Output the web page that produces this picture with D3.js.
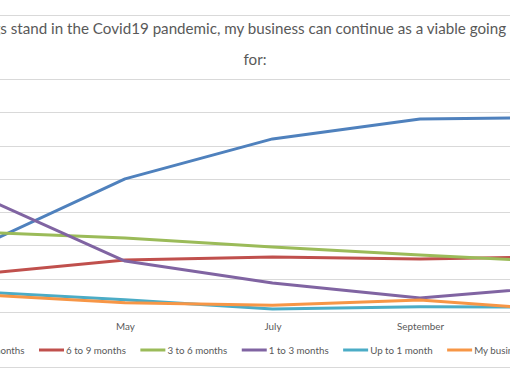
<!DOCTYPE html>
<html>
<head>
<meta charset="utf-8">
<script src="https://cdn.jsdelivr.net/npm/d3@7"></script>
<style>
  html, body { margin: 0; padding: 0; background: #fff; overflow: hidden; }
  svg { display: block; }
</style>
</head>
<body>
<svg id="chart" width="510" height="382"></svg>
<script>
// ---------------- DATA ----------------
const titleLine1 = "As things stand in the Covid19 pandemic, my business can continue as a viable going concern";
const titleLine2 = "for:";
const months = ["March", "April", "May", "June", "July", "August", "September", "October", "November"];
const surveyMonths = ["March", "May", "July", "September", "November"];
const tickMonths = ["May", "July", "September"];
const seriesNames = ["More than 9 months", "6 to 9 months", "3 to 6 months", "1 to 3 months", "Up to 1 month", "My business has already closed"];
const moreThan9 = [0.194, 0.400, 0.520, 0.580, 0.585];
const sixTo9    = [0.114, 0.156, 0.165, 0.159, 0.167];
const threeTo6  = [0.240, 0.222, 0.195, 0.171, 0.149];
const oneTo3    = [0.352, 0.153, 0.087, 0.042, 0.079];
const upTo1     = [0.061, 0.037, 0.009, 0.016, 0.015];
const closed    = [0.053, 0.028, 0.020, 0.036, 0.004];
const yTicks = [0, 0.1, 0.2, 0.3, 0.4, 0.5, 0.6, 0.7];
const colors = ["#4F81BD", "#C0504D", "#9BBB59", "#8064A2", "#4BACC6", "#F79646"];

const seriesValues = [moreThan9, sixTo9, threeTo6, oneTo3, upTo1, closed];

// ---------------- CHART ----------------
const svg = d3.select("#chart");
const W = 510, H = 382;
const FONT = "Lato, 'Open Sans', sans-serif";
const TEXT_COLOR = "#595959";
const GRID = "#d9d9d9";

svg.append("rect").attr("width", W).attr("height", H).attr("fill", "#fff");

// chart area border (top & bottom visible)
svg.append("line").attr("x1", 0).attr("x2", W).attr("y1", 15.5).attr("y2", 15.5)
  .attr("stroke", GRID).attr("stroke-width", 1);
svg.append("line").attr("x1", 0).attr("x2", W).attr("y1", 367.5).attr("y2", 367.5)
  .attr("stroke", GRID).attr("stroke-width", 1);

const x = d3.scalePoint().domain(months).range([-22.5, 567.5]);
const y = d3.scaleLinear().domain([0, 0.7]).range([312, 79]);

// gridlines
svg.append("g").selectAll("line").data(yTicks).join("line")
  .attr("x1", -80).attr("x2", W + 80)
  .attr("y1", d => Math.round(y(d)) + 0.5).attr("y2", d => Math.round(y(d)) + 0.5)
  .attr("stroke", GRID).attr("stroke-width", 1);

// x axis labels
const xAxis = svg.append("g").attr("transform", "translate(0,330)")
  .call(d3.axisBottom(x).tickValues(tickMonths).tickSize(0).tickPadding(0));
xAxis.select(".domain").remove();
xAxis.selectAll("text")
  .attr("dy", 0).attr("y", 0)
  .attr("fill", TEXT_COLOR).attr("font-family", FONT).attr("font-size", 10);

// fit axis font so "September" ~ 47px
(function () {
  const t = xAxis.selectAll("text").filter(d => d === "September").node();
  const w = t.getComputedTextLength();
  const fs = 10 * 47 / w;
  xAxis.selectAll("text").attr("font-size", fs);
})();

// series lines
const line = d3.line()
  .x((d, i) => x(surveyMonths[i]))
  .y(d => y(d));

svg.append("g").selectAll("path").data(seriesValues).join("path")
  .attr("d", d => line(d))
  .attr("fill", "none")
  .attr("stroke", (d, i) => colors[i])
  .attr("stroke-width", 3)
  .attr("stroke-linejoin", "round")
  .attr("stroke-linecap", "round");

// title line 1: fit so "s stand" starts near x=0 and "concern" starts just past the right edge
const t1 = svg.append("text").attr("x", 0).attr("y", 33.5).attr("fill", TEXT_COLOR)
  .attr("font-family", FONT).attr("font-size", 14).text(titleLine1);
(function () {
  const node = t1.node();
  const iS = "As thing".length;
  const iC = titleLine1.lastIndexOf("concern");
  let span = node.getStartPositionOfChar(iC).x - node.getStartPositionOfChar(iS).x;
  const fs = 14 * 510 / span;
  t1.attr("font-size", fs);
  const sx = node.getStartPositionOfChar(iS).x;
  t1.attr("x", 0.3 - sx);
})();

svg.append("text").attr("x", 255).attr("y", 64.5).attr("text-anchor", "middle")
  .attr("fill", TEXT_COLOR).attr("font-family", FONT)
  .attr("font-size", +t1.attr("font-size")).text(titleLine2);

// legend
const legend = svg.append("g");
const items = legend.selectAll("g").data(seriesNames).join("g");
items.append("line").attr("x1", 0).attr("x2", 25).attr("y1", 350).attr("y2", 350)
  .attr("stroke", (d, i) => colors[i]).attr("stroke-width", 3);
const ltexts = items.append("text").attr("x", 27).attr("y", 353.5)
  .attr("fill", TEXT_COLOR).attr("font-family", FONT).attr("font-size", 10).text(d => d);
(function () {
  const ref = ltexts.filter(d => d === "6 to 9 months").node();
  const fs = 10 * 60 / ref.getComputedTextLength();
  ltexts.attr("font-size", fs);
  const widths = ltexts.nodes().map(n => n.getComputedTextLength());
  const gap = 14.5;
  const pos = [];
  pos[1] = 39;
  pos[0] = pos[1] - gap - widths[0] - 27;
  for (let i = 2; i < seriesNames.length; i++) pos[i] = pos[i - 1] + 27 + widths[i - 1] + gap;
  items.attr("transform", (d, i) => `translate(${pos[i]},0)`);
})();
</script>
</body>
</html>
